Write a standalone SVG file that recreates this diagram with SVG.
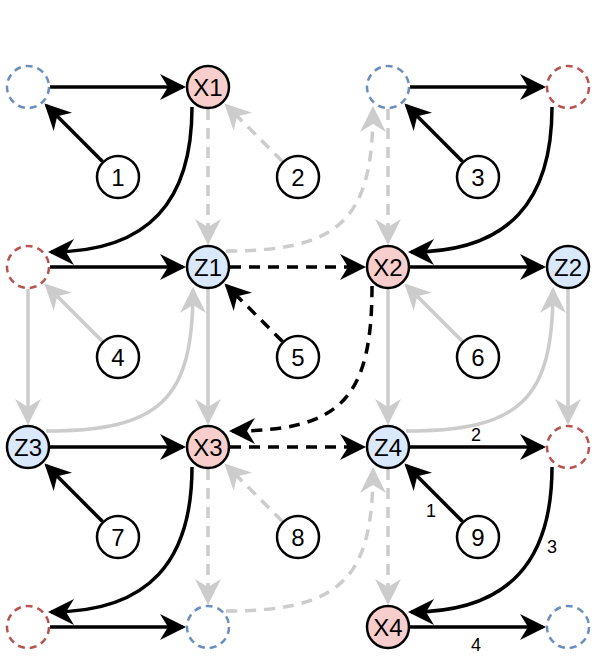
<svg xmlns="http://www.w3.org/2000/svg" width="598" height="668" viewBox="0 0 598 668">
<style>
text{font-family:"Liberation Sans",Arial,sans-serif;text-anchor:middle;fill:#000}
.n text{font-size:24px}
.num text{font-size:24px}
.x{fill:#f8cecc;stroke:#000;stroke-width:2.5}
.z{fill:#dae8fc;stroke:#000;stroke-width:2.5}
.c{fill:#fff;stroke:#000;stroke-width:2.5}
.rd{fill:none;stroke:#b85450;stroke-width:2.5;stroke-dasharray:7 5}
.bd{fill:none;stroke:#6c8ebf;stroke-width:2.5;stroke-dasharray:7 5}
.k{fill:none;stroke:#000;stroke-width:3.5;marker-end:url(#mk)}
.g{fill:none;stroke:#cccccc;stroke-width:3.5;marker-end:url(#mg)}
.d{stroke-dasharray:11 8}
.el{font-size:18px}
</style>
<defs>
<marker id="mk" viewBox="-27 -14 28 28" markerWidth="28" markerHeight="28" refX="-3" refY="0" orient="auto" markerUnits="userSpaceOnUse"><path d="M0,0 L-26,-13 L-18,0 L-26,13 Z" fill="#000"/></marker>
<marker id="mg" viewBox="-27 -14 28 28" markerWidth="28" markerHeight="28" refX="-3" refY="0" orient="auto" markerUnits="userSpaceOnUse"><path d="M0,0 L-26,-13 L-18,0 L-26,13 Z" fill="#cccccc"/></marker>
</defs>
<g id="connectors">
<!-- gray vertical -->
<path class="g d" d="M208 109 L208 242"/>
<path class="g d" d="M388 109 L388 242"/>
<path class="g" d="M28 289 L28 422"/>
<path class="g" d="M208 289 L208 422"/>
<path class="g" d="M388 289 L388 422"/>
<path class="g" d="M568 289 L568 422"/>
<path class="g d" d="M208 469 L208 602"/>
<path class="g d" d="M388 469 L388 602"/>
<!-- gray curves -->
<path class="g" d="M46 431 C160 431 193 400 193 290"/>
<path class="g d" d="M226 251 C340 251 373 220 373 109"/>
<path class="g" d="M406 431 C520 431 553 400 553 290"/>
<path class="g d" d="M226 611 C340 611 373 580 373 470"/>
<!-- gray diagonals -->
<path class="g d" d="M282.5 161.5 L226.6 105.6"/>
<path class="g" d="M102.5 341.5 L46.6 285.6"/>
<path class="g" d="M462.5 341.5 L406.6 285.6"/>
<path class="g d" d="M282.5 521.5 L226.6 465.6"/>
<!-- black horizontal -->
<path class="k" d="M50 87 L183 87"/>
<path class="k" d="M410 87 L543 87"/>
<path class="k" d="M50 267 L183 267"/>
<path class="k d" d="M230 267 L363 267"/>
<path class="k" d="M410 267 L543 267"/>
<path class="k" d="M50 447 L183 447"/>
<path class="k d" d="M230 447 L363 447"/>
<path class="k" d="M410 447 L543 447"/>
<path class="k" d="M50 627 L183 627"/>
<path class="k" d="M410 627 L543 627"/>
<!-- black curves -->
<path class="k" d="M192 107 C192 200 150 252 51 252"/>
<path class="k" d="M552 107 C552 200 510 252 411 252"/>
<path class="k" d="M192 467 C192 560 150 612 51 612"/>
<path class="k" d="M552 467 C552 560 510 612 411 612"/>
<path class="k d" d="M372 286 C372 400 340 431 232 431"/>
<!-- black diagonals -->
<path class="k" d="M102.5 161.5 L46.6 105.6"/>
<path class="k" d="M462.5 161.5 L406.6 105.6"/>
<path class="k d" d="M282.5 341.5 L226.6 285.6"/>
<path class="k" d="M102.5 521.5 L46.6 465.6"/>
<path class="k" d="M462.5 521.5 L406.6 465.6"/>
<!-- edge labels -->
<text class="el" x="476" y="441">2</text>
<text class="el" x="431" y="517">1</text>
<text class="el" x="552" y="553">3</text>
<text class="el" x="476" y="651">4</text>
</g>
<g id="A"><circle class="bd" cx="28" cy="87" r="21"/></g>
<g id="X1" class="n"><circle class="x" cx="208" cy="87" r="21"/><text x="208" y="95.5">X1</text></g>
<g id="B"><circle class="bd" cx="388" cy="87" r="21"/></g>
<g id="C"><circle class="rd" cx="568" cy="87" r="21"/></g>
<g id="D"><circle class="rd" cx="28" cy="267" r="21"/></g>
<g id="Z1" class="n"><circle class="z" cx="208" cy="267" r="21"/><text x="208" y="275.5">Z1</text></g>
<g id="X2" class="n"><circle class="x" cx="388" cy="267" r="21"/><text x="388" y="275.5">X2</text></g>
<g id="Z2" class="n"><circle class="z" cx="568" cy="267" r="21"/><text x="568" y="275.5">Z2</text></g>
<g id="Z3" class="n"><circle class="z" cx="28" cy="447" r="21"/><text x="28" y="455.5">Z3</text></g>
<g id="X3" class="n"><circle class="x" cx="208" cy="447" r="21"/><text x="208" y="455.5">X3</text></g>
<g id="Z4" class="n"><circle class="z" cx="388" cy="447" r="21"/><text x="388" y="455.5">Z4</text></g>
<g id="E"><circle class="rd" cx="568" cy="447" r="21"/></g>
<g id="F"><circle class="rd" cx="28" cy="627" r="21"/></g>
<g id="G"><circle class="bd" cx="208" cy="627" r="21"/></g>
<g id="X4" class="n"><circle class="x" cx="388" cy="627" r="21"/><text x="388" y="635.5">X4</text></g>
<g id="H"><circle class="bd" cx="568" cy="627" r="21"/></g>
<g id="N1" class="num"><circle class="c" cx="118" cy="177" r="21"/><text x="118" y="185.5">1</text></g>
<g id="N2" class="num"><circle class="c" cx="298" cy="177" r="21"/><text x="298" y="185.5">2</text></g>
<g id="N3" class="num"><circle class="c" cx="478" cy="177" r="21"/><text x="478" y="185.5">3</text></g>
<g id="N4" class="num"><circle class="c" cx="118" cy="357" r="21"/><text x="118" y="365.5">4</text></g>
<g id="N5" class="num"><circle class="c" cx="298" cy="357" r="21"/><text x="298" y="365.5">5</text></g>
<g id="N6" class="num"><circle class="c" cx="478" cy="357" r="21"/><text x="478" y="365.5">6</text></g>
<g id="N7" class="num"><circle class="c" cx="118" cy="537" r="21"/><text x="118" y="545.5">7</text></g>
<g id="N8" class="num"><circle class="c" cx="298" cy="537" r="21"/><text x="298" y="545.5">8</text></g>
<g id="N9" class="num"><circle class="c" cx="478" cy="537" r="21"/><text x="478" y="545.5">9</text></g>
</svg>
